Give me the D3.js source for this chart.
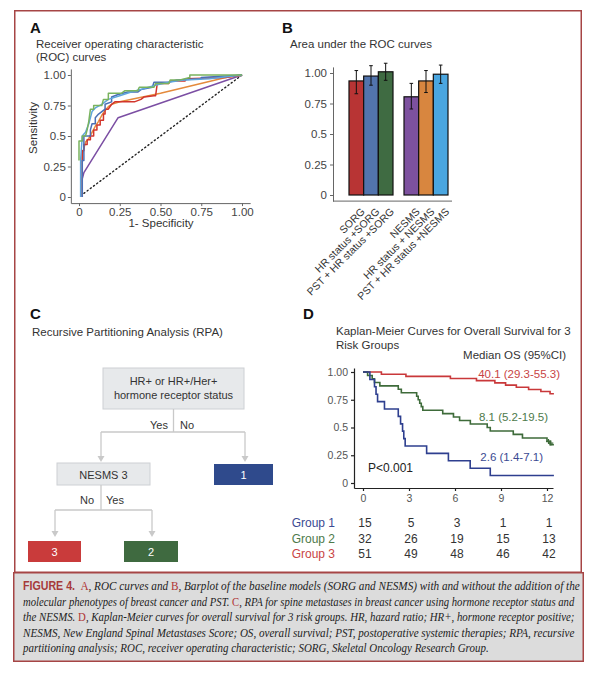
<!DOCTYPE html>
<html><head><meta charset="utf-8">
<script src="https://cdn.jsdelivr.net/npm/d3@7"></script>
<style>body{margin:0;background:#fff}svg{display:block}</style>
</head><body>
<svg id="c" width="601" height="680"></svg>
<script>
// ---------------- DATA ----------------
// Panel A: ROC curves [1-specificity, sensitivity]
const rocSORG = [[0.02,0],[0.02,0.38],[0.03,0.38],[0.03,0.43],[0.05,0.43],[0.05,0.47],[0.07,0.47],[0.07,0.5],[0.09,0.5],[0.09,0.55],[0.11,0.55],[0.11,0.59],[0.13,0.59],[0.13,0.63],[0.15,0.63],[0.15,0.68],[0.16,0.68],[0.16,0.72],[0.18,0.72],[0.2,0.76],[0.22,0.78],[0.34,0.78],[0.38,0.8],[0.4,0.82],[0.46,0.83],[0.47,0.83],[0.48,0.93],[0.55,0.93],[0.56,0.95],[0.65,0.95],[0.66,0.97],[0.9,0.98],[1,1]];
const rocHRSORG = [[0.02,0],[0.02,0.3],[0.03,0.3],[0.03,0.5],[0.07,0.5],[0.07,0.55],[0.08,0.6],[0.1,0.6],[0.1,0.65],[0.12,0.68],[0.14,0.7],[0.16,0.72],[0.16,0.76],[0.2,0.78],[0.2,0.82],[0.24,0.84],[0.3,0.86],[0.36,0.86],[0.38,0.88],[0.45,0.9],[0.46,0.94],[0.55,0.94],[0.6,0.96],[0.75,0.97],[0.75,0.98],[1,1]];
const rocPSTSORG = [[0,0.3],[0,0.46],[0.02,0.46],[0.02,0.5],[0.04,0.5],[0.05,0.55],[0.06,0.62],[0.07,0.72],[0.09,0.72],[0.09,0.75],[0.14,0.75],[0.15,0.8],[0.18,0.8],[0.18,0.85],[0.26,0.85],[0.28,0.87],[0.36,0.87],[0.37,0.9],[0.46,0.9],[0.47,0.93],[0.55,0.93],[0.56,0.96],[0.62,0.96],[0.68,0.98],[0.68,1],[1,1]];
const rocNESMS = [[0.02,0],[0.02,0.15],[0.03,0.2],[0.24,0.65],[1,1]];
const rocHRNESMS = [[0.02,0],[0.02,0.35],[0.03,0.4],[0.04,0.45],[0.06,0.48],[0.08,0.53],[0.1,0.58],[0.12,0.62],[0.14,0.67],[0.16,0.71],[0.18,0.74],[0.2,0.76],[0.25,0.78],[0.5,0.85],[0.9,0.98],[1,1]];
const rocPSTNESMS = [[0.01,0],[0.01,0.3],[0.02,0.5],[0.04,0.53],[0.06,0.6],[0.08,0.7],[0.1,0.73],[0.14,0.76],[0.18,0.8],[0.25,0.83],[0.32,0.86],[0.4,0.89],[0.48,0.92],[0.55,0.94],[0.65,0.96],[0.8,0.97],[1,1]];
const rocDiag = [[0.03,0.03],[1,1]];
const rocTicks = [0,0.25,0.5,0.75,1];
const rocXLabels = ["0","0.25","0.50","0.75","1.00"];
const rocYLabels = ["0","0.25","0.5","0.75","1.00"];

// Panel B: AUC bars
const aucGroups = ["SORG","NESMS"];
const aucModels = ["SORG","HR status +SORG","PST + HR status +SORG","NESMS","HR status + NESMS","PST + HR status +NESMS"];
const aucModelGroup = ["SORG","SORG","SORG","NESMS","NESMS","NESMS"];
const aucValues = [0.935,0.975,1.01,0.805,0.935,0.99];
const aucLow = [0.83,0.90,0.94,0.705,0.84,0.915];
const aucHigh = [1.02,1.06,1.08,0.915,1.02,1.065];
const aucYTicks = [0,0.25,0.5,0.75,1];
const aucYLabels = ["0","0.25","0.5","0.75","1.00"];

// Panel C: RPA tree labels
const rpaRoot = ["HR+ or HR+/Her+","hormone receptor status"];
const rpaNode = "NESMS 3";
const rpaLeaves = ["1","3","2"];
const rpaBranch = ["Yes","No"];

// Panel D: Kaplan-Meier
const kmG1Times = [0,0.45,0.75,0.85,0.95,1.4,2.3,2.45,2.58,2.66,2.75,4.15,5.57,6.99,8.3,12.45];
const kmG1Surv  = [1,0.933,0.867,0.8,0.733,0.667,0.6,0.533,0.467,0.4,0.333,0.267,0.2,0.133,0.067,0.067];
const kmG2Times = [0,0.3,0.6,0.75,1.1,2.3,2.5,3.5,3.6,3.7,3.8,3.9,5.2,5.9,6.3,7.0,8.1,8.3,9.8,10.4,12.0,12.2,12.45];
const kmG2Surv  = [1,0.969,0.938,0.906,0.875,0.844,0.813,0.781,0.75,0.719,0.688,0.656,0.625,0.594,0.563,0.531,0.5,0.469,0.438,0.406,0.375,0.344,0.344];
const kmG3Times = [0,1.2,2.8,5.7,7.4,8.6,9.3,10.0,10.8,11.6,12.2,12.45];
const kmG3Surv  = [1,0.98,0.961,0.941,0.922,0.902,0.882,0.863,0.843,0.824,0.804,0.804];
const kmG2Censor = [[12.1,0.375],[12.25,0.36]];
const kmXTicks = [0,3,6,9,12];
const kmYTicks = [0,0.25,0.5,0.75,1];
const kmYLabels = ["0","0.25","0.5","0.75","1.00"];
const kmGroups = ["Group 1","Group 2","Group 3"];
const kmMedians = ["2.6 (1.4-7.1)","8.1 (5.2-19.5)","40.1 (29.3-55.3)"];
const riskTimes = [0,3,6,9,12];
const riskG1 = [15,5,3,1,1];
const riskG2 = [32,26,19,15,13];
const riskG3 = [51,49,48,46,42];

// Caption
const captionLines = [
 [["FIGURE 4.","fig"],["A","red",6],[", ROC curves and ","it"],["B","red"],[", Barplot of the baseline models (SORG and NESMS) with and without the addition of the","it"]],
 [["molecular phenotypes of breast cancer and PST. ","it"],["C","red"],[", RPA for spine metastases in breast cancer using hormone receptor status and","it"]],
 [["the NESMS. ","it"],["D","red"],[", Kaplan-Meier curves for overall survival for 3 risk groups. HR, hazard ratio; HR+, hormone receptor positive;","it"]],
 [["NESMS, New England Spinal Metastases Score; OS, overall survival; PST, postoperative systemic therapies; RPA, recursive","it"]],
 [["partitioning analysis; ROC, receiver operating characteristic; SORG, Skeletal Oncology Research Group.","it"]]
];

// ---------------- DRAW ----------------
const svg = d3.select("#c");
const SANS = "'Liberation Sans', Arial, Helvetica, sans-serif";
const SERIF = "'Liberation Serif', 'Times New Roman', serif";
svg.append("rect").attr("width",601).attr("height",680).attr("fill","#fff");
svg.attr("font-family",SANS);

function txt(x,y,s,opt={}){
  const t = svg.append("text").attr("x",x).attr("y",y).text(s)
    .attr("font-size",opt.size||11.5).attr("fill",opt.fill||"#333")
    .attr("font-weight",opt.weight||"normal").attr("text-anchor",opt.anchor||"start");
  return t;
}
function styleAxis(g,col,w,size,tcol){
  g.attr("font-family",SANS);
  g.select(".domain").attr("stroke",col).attr("stroke-width",w);
  g.selectAll(".tick line").attr("stroke",col).attr("stroke-width",w);
  g.selectAll(".tick text").attr("fill",tcol).attr("font-size",size);
}

// frames
svg.append("rect").attr("x",14.75).attr("y",10.75).attr("width",566.5).attr("height",561.5)
  .attr("fill","none").attr("stroke","#a64545").attr("stroke-width",1.5);
svg.append("rect").attr("x",13.75).attr("y",572.75).attr("width",569.5).attr("height",88.5)
  .attr("fill","#dcdcdc").attr("stroke","#a64545").attr("stroke-width",1.5);

// ===== Panel A =====
txt(30,33,"A",{size:15,weight:"bold",fill:"#111"});
txt(36,48,"Receiver operating characteristic");
txt(36,61,"(ROC) curves");
const xA = d3.scaleLinear([-0.05,1.05],[70.85,250.15]);
const yA = d3.scaleLinear([-0.05,1.05],[203.1,68.9]);
const gAx = svg.append("g").attr("transform",`translate(0,${yA(-0.05)})`)
  .call(d3.axisBottom(xA).tickValues(rocTicks).tickFormat((d,i)=>rocXLabels[i]).tickSize(3).tickSizeOuter(0).tickPadding(2));
styleAxis(gAx,"#666",1,11.5,"#444");
const gAy = svg.append("g").attr("transform",`translate(${xA(-0.05)},0)`)
  .call(d3.axisLeft(yA).tickValues(rocTicks).tickFormat((d,i)=>rocYLabels[i]).tickSize(3).tickSizeOuter(0).tickPadding(2));
styleAxis(gAy,"#666",1,11.5,"#444");
txt(161,227,"1- Specificity",{anchor:"middle"});
svg.append("text").attr("transform","translate(37,128) rotate(-90)").attr("text-anchor","middle")
  .attr("font-size",11.5).attr("fill","#333").text("Sensitivity");
const lineA = d3.line().x(d=>xA(d[0])).y(d=>yA(d[1]));
svg.append("path").attr("d",lineA(rocDiag)).attr("fill","none").attr("stroke","#222")
  .attr("stroke-width",1.4).attr("stroke-dasharray","1.2,2.8").attr("stroke-linecap","round");
const rocSeries = [
  [rocNESMS,"#7b4ea3"],[rocHRNESMS,"#e48a3c"],[rocSORG,"#d2352c"],
  [rocHRSORG,"#4b6fb5"],[rocPSTNESMS,"#5ea5dc"],[rocPSTSORG,"#79b35e"]];
rocSeries.forEach(([d,c])=>{
  svg.append("path").attr("d",lineA(d)).attr("fill","none").attr("stroke",c).attr("stroke-width",1.5).attr("stroke-linejoin","round");
});

// ===== Panel B =====
txt(282,33,"B",{size:15,weight:"bold",fill:"#111"});
txt(290,48,"Area under the ROC curves");
const yB = d3.scaleLinear([-0.05,1.05],[201.1,66.9]);
const xG = d3.scaleBand().domain(aucGroups).range([349,448]).paddingInner(0.2).paddingOuter(0);
const xIn = d3.scaleBand().domain([0,1,2]).range([0,xG.bandwidth()]);
const axL = 333, axR = 452;
const gBy = svg.append("g").attr("transform",`translate(${axL},0)`)
  .call(d3.axisLeft(yB).tickValues(aucYTicks).tickFormat((d,i)=>aucYLabels[i]).tickSize(3).tickSizeOuter(0).tickPadding(3));
styleAxis(gBy,"#666",1,11.5,"#444");
svg.append("line").attr("x1",axL).attr("x2",axR).attr("y1",yB(-0.05)).attr("y2",yB(-0.05)).attr("stroke","#666");
const barColors = ["#b83434","#5274ad","#3f6b42","#7d519f","#d8863f","#4aa6e0"];
const barIdx = d3.range(aucModels.length);
const bx = i => xG(aucModelGroup[i]) + xIn(i%3);
svg.append("g").selectAll("rect").data(barIdx).join("rect")
  .attr("x",i=>bx(i)).attr("width",xIn.bandwidth())
  .attr("y",i=>yB(aucValues[i])).attr("height",i=>yB(0)-yB(aucValues[i]))
  .attr("fill",i=>barColors[i]).attr("stroke","#111").attr("stroke-width",1.2);
const eb = svg.append("g").attr("stroke","#111").attr("stroke-width",1);
barIdx.forEach(i=>{
  const cx = bx(i)+xIn.bandwidth()/2;
  eb.append("line").attr("x1",cx).attr("x2",cx).attr("y1",yB(aucLow[i])).attr("y2",yB(aucHigh[i]));
  eb.append("line").attr("x1",cx-1.8).attr("x2",cx+1.8).attr("y1",yB(aucLow[i])).attr("y2",yB(aucLow[i]));
  eb.append("line").attr("x1",cx-1.8).attr("x2",cx+1.8).attr("y1",yB(aucHigh[i])).attr("y2",yB(aucHigh[i]));
  svg.append("text").attr("transform",`translate(${cx+4},${yB(-0.05)+6}) rotate(-45)`)
    .attr("text-anchor","end").attr("dy","0.7em").attr("font-size",10.5).attr("fill","#333").text(aucModels[i]);
});

// ===== Panel C =====
txt(30,319,"C",{size:15,weight:"bold",fill:"#111"});
txt(32,336,"Recursive Partitioning Analysis (RPA)");
const lc = "#c9c9c9";
const gC = svg.append("g");
function box(x,y,w,h,fill,stroke){ gC.append("rect").attr("x",x).attr("y",y).attr("width",w).attr("height",h).attr("fill",fill).attr("stroke",stroke||"none"); }
function seg(x1,y1,x2,y2){ gC.append("line").attr("x1",x1).attr("y1",y1).attr("x2",x2).attr("y2",y2).attr("stroke",lc).attr("stroke-width",1.3); }
function arrow(x,y1,y2){ seg(x,y1,x,y2-5); gC.append("path").attr("d",`M${x-3.5},${y2-6}L${x+3.5},${y2-6}L${x},${y2}Z`).attr("fill",lc); }
box(103,368,141,41,"#e7e9eb","#cdd0d4");
gC.append("text").attr("x",173.5).attr("y",385).attr("text-anchor","middle").attr("font-size",11).attr("fill","#333").text(rpaRoot[0]);
gC.append("text").attr("x",173.5).attr("y",399).attr("text-anchor","middle").attr("font-size",11).attr("fill","#333").text(rpaRoot[1]);
seg(173.5,409,173.5,432);
seg(101,432,245,432);
arrow(101,432,462); arrow(245,432,462);
gC.append("text").attr("x",168).attr("y",429).attr("text-anchor","end").attr("font-size",11).attr("fill","#333").text(rpaBranch[0]);
gC.append("text").attr("x",180).attr("y",429).attr("font-size",11).attr("fill","#333").text(rpaBranch[1]);
box(57,463,93,22,"#e7e9eb","#cdd0d4");
gC.append("text").attr("x",103.5).attr("y",478.5).attr("text-anchor","middle").attr("font-size",11).attr("fill","#333").text(rpaNode);
box(214,464,59,21,"#2f4a8c");
gC.append("text").attr("x",243.5).attr("y",478.5).attr("text-anchor","middle").attr("font-size",11).attr("fill","#fff").text(rpaLeaves[0]);
seg(101,485,101,510);
seg(55,510,152,510);
arrow(55,510,537); arrow(152,510,537);
gC.append("text").attr("x",94).attr("y",504).attr("text-anchor","end").attr("font-size",11).attr("fill","#333").text(rpaBranch[1]);
gC.append("text").attr("x",106).attr("y",504).attr("font-size",11).attr("fill","#333").text(rpaBranch[0]);
box(28,541,53,21,"#c93b3b");
gC.append("text").attr("x",54.5).attr("y",555.5).attr("text-anchor","middle").attr("font-size",11).attr("fill","#fff").text(rpaLeaves[1]);
box(124,541,54,21,"#3f6a40");
gC.append("text").attr("x",151).attr("y",555.5).attr("text-anchor","middle").attr("font-size",11).attr("fill","#fff").text(rpaLeaves[2]);

// ===== Panel D =====
txt(303,319,"D",{size:15,weight:"bold",fill:"#111"});
txt(336,335,"Kaplan-Meier Curves for Overall Survival for 3");
txt(336,349,"Risk Groups");
txt(566,359,"Median OS (95%CI)",{anchor:"end"});
const xD = d3.scaleLinear([0,12],[363,547]);
const yD = d3.scaleLinear([0,1],[483,372]);
const xDa = d3.scaleLinear([xD.invert(354),xD.invert(553)],[354,553]);
const yDa = d3.scaleLinear([yD.invert(488),yD.invert(368)],[488,368]);
const gDx = svg.append("g").attr("transform","translate(0,488)")
  .call(d3.axisBottom(xDa).tickValues(kmXTicks).tickSize(3).tickSizeOuter(0).tickPadding(4));
styleAxis(gDx,"#222",1.2,10.5,"#555");
const gDy = svg.append("g").attr("transform","translate(354,0)")
  .call(d3.axisLeft(yDa).tickValues(kmYTicks).tickFormat((d,i)=>kmYLabels[i]).tickSize(3).tickSizeOuter(0).tickPadding(3));
styleAxis(gDy,"#222",1.2,10.5,"#555");
const kmColors = ["#2e3f8f","#3e6b3a","#c9383a"];
const kmText = ["#3b4a92","#4d7a4a","#c84444"];
const kmLine = d3.line().x(d=>xD(d[0])).y(d=>yD(d[1])).curve(d3.curveStepAfter);
[[kmG3Times,kmG3Surv,2],[kmG2Times,kmG2Surv,1],[kmG1Times,kmG1Surv,0]].forEach(([t,s,k])=>{
  svg.append("path").attr("d",kmLine(d3.zip(t,s))).attr("fill","none").attr("stroke",kmColors[k]).attr("stroke-width",1.6);
});
kmG2Censor.forEach(([t,s])=>{
  svg.append("path").attr("d",`M${xD(t)-2.5},${yD(s)}h5M${xD(t)},${yD(s)-2.5}v5`).attr("stroke",kmColors[1]).attr("stroke-width",1.2);
});
txt(560,378,kmMedians[2],{anchor:"end",fill:kmText[2]});
txt(548,421,kmMedians[1],{anchor:"end",fill:kmText[1]});
txt(543,461,kmMedians[0],{anchor:"end",fill:kmText[0]});
txt(368,472,"P<0.001",{size:12,fill:"#222"});
const riskRows = [riskG1,riskG2,riskG3];
const rowY = [527,543,558];
riskRows.forEach((row,r)=>{
  txt(335,rowY[r],kmGroups[r],{size:12,anchor:"end",fill:kmText[r]});
  row.forEach((v,i)=>{ txt(xD(riskTimes[i])+2,rowY[r],String(v),{size:12,anchor:"middle",fill:"#333"}); });
});

// ===== Caption =====
const capX = 23, capW = 552, capY = [590,606,621,637,652], capFS = 12.5;
const capTexts = captionLines.map((segs,li)=>{
  const t = svg.append("text").attr("x",0).attr("y",0).attr("font-family",SERIF).attr("fill","#222").attr("font-size",capFS);
  segs.forEach(([s,k,dx])=>{
    const ts = t.append("tspan").text(s);
    if(dx) ts.attr("dx",dx);
    if(k==="fig") ts.attr("font-family",SANS).attr("font-weight","bold").attr("fill","#a63a3a").attr("font-size",capFS*0.95);
    else if(k==="red") ts.attr("fill","#b03535").attr("font-style","normal");
    else ts.attr("font-style","italic");
  });
  return t;
});
const widths = capTexts.map(t=>t.node().getComputedTextLength());
const ratios = widths.slice(0,-1).map(w=>capW/w);
const avgRatio = d3.mean(ratios);
capTexts.forEach((t,li)=>{
  const sx = li<capTexts.length-1 ? ratios[li] : avgRatio;
  t.attr("transform",`translate(${capX},${capY[li]}) scale(${sx},1)`);
});
</script>
</body></html>
